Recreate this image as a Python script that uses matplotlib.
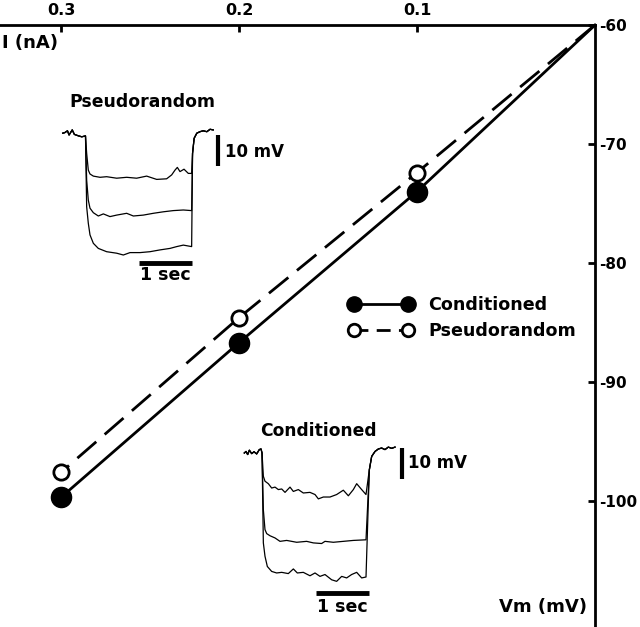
import matplotlib
matplotlib.use("Agg")
import matplotlib.pyplot as plt
from matplotlib.lines import Line2D

plt.rcParams['font.family'] = ['DejaVu Sans']
plt.rcParams['font.weight'] = 'bold'
plt.rcParams['axes.unicode_minus'] = False

# I-V data (current in nA, membrane potential in mV)
current = [0.3, 0.2, 0.1]
vm_conditioned = [-99.7, -86.7, -74.0]
vm_pseudorandom = [-97.6, -84.6, -72.4]
rest_current = 0.0
rest_vm = -60.0

x_ticks = [0.3, 0.2, 0.1]
y_ticks = [-60, -70, -80, -90, -100]

# --- inset traces: time (s) and voltage change (mV) ---
# pseudorandom
pr_pre_t = [0, 0.04, 0.09, 0.12, 0.18, 0.22, 0.30, 0.36, 0.43]
pr_pre_v = [0.6, 0.8, 1.4, 0, 1.7, 0.2, -0.3, -0.6, -0.3]
pr_post_t = [2.45, 2.48, 2.53, 2.59, 2.65, 2.72, 2.78, 2.84]
pr_post_v = [-6.1, -1.1, 0.6, 1.1, 1.4, 1.1, 1.9, 1.7]
pr1_t = [0.452, 0.483, 0.515, 0.578, 0.704, 0.829, 1.018, 1.207, 1.395, 1.584,
         1.773, 1.961, 2.056, 2.119, 2.163, 2.213, 2.289, 2.37, 2.433]
pr1_v = [-6.1, -11.7, -13.0, -13.7, -14.1, -13.9, -14.4, -14.1, -14.4, -13.7,
         -14.8, -14.6, -13.3, -11.7, -10.8, -12.2, -11.4, -12.8, -12.8]
pr2_t = [0.452, 0.483, 0.515, 0.578, 0.672, 0.767, 0.892, 1.018, 1.207, 1.333,
         1.521, 1.710, 1.899, 2.087, 2.276, 2.433]
pr2_v = [-15.0, -21.7, -24.4, -25.9, -27.0, -26.3, -27.2, -26.7, -26.1, -27.0,
         -26.7, -26.1, -25.6, -25.2, -25.0, -25.2]
pr3_t = [0.452, 0.483, 0.515, 0.578, 0.672, 0.829, 1.018, 1.144, 1.270, 1.459,
         1.647, 1.836, 2.025, 2.151, 2.276, 2.370, 2.433]
pr3_v = [-23.9, -29.4, -33.3, -36.1, -37.8, -38.9, -39.4, -40.0, -39.2, -39.2,
         -38.9, -38.3, -37.8, -37.2, -36.7, -37.0, -37.2]

# conditioned
co_pre_t = [0.006, 0.038, 0.069, 0.101, 0.145, 0.189, 0.239, 0.289, 0.321, 0.340]
co_pre_v = [0, 0.5, -0.5, 0.9, -0.2, 0.4, -0.3, 1.1, 1.3, 0]
co_post_t = [2.365, 2.409, 2.472, 2.535, 2.597, 2.66, 2.723, 2.786, 2.849]
co_post_v = [-5.4, -1.1, 0.5, 1.3, 1.6, 1.1, 1.9, 1.5, 1.9]
co1_t = [0.365, 0.396, 0.459, 0.522, 0.585, 0.648, 0.711, 0.774, 0.868, 0.931,
         1.025, 1.119, 1.245, 1.340, 1.403, 1.497, 1.623, 1.748, 1.874, 1.969,
         2.063, 2.126, 2.220, 2.302]
co1_v = [-7.5, -9.1, -9.9, -11.3, -11.0, -11.8, -11.6, -12.7, -11.0, -12.4,
         -11.8, -12.9, -12.7, -13.4, -14.8, -14.2, -14.2, -13.4, -12.0, -13.8,
         -11.8, -9.9, -11.8, -13.4]
co2_t = [0.365, 0.396, 0.428, 0.491, 0.585, 0.679, 0.805, 0.994, 1.182, 1.308,
         1.465, 1.528, 1.685, 1.874, 2.063, 2.302]
co2_v = [-18.3, -24.7, -26.0, -26.7, -27.4, -28.5, -28.2, -28.8, -28.5, -29.0,
         -29.2, -28.5, -28.8, -28.5, -28.2, -28.0]
co3_t = [0.365, 0.396, 0.440, 0.522, 0.616, 0.711, 0.836, 0.931, 1.006, 1.119,
         1.245, 1.340, 1.434, 1.528, 1.654, 1.748, 1.843, 1.937, 2.031, 2.126,
         2.220, 2.302]
co3_v = [-29.0, -33.3, -36.6, -38.2, -38.7, -38.5, -38.9, -37.4, -38.7, -38.5,
         -39.6, -38.7, -39.8, -39.2, -40.9, -41.4, -39.8, -40.3, -39.2, -38.5,
         -40.3, -40.0]

W, H = 640, 627
fig = plt.figure(figsize=(W / 100, H / 100), dpi=100)

# main axes: right spine at x=595 px, top spine at y=25 px
ax = fig.add_axes([0, 0, 595 / W, 1 - 25 / H])
ax.set_xlim(0.3343, 0.0)
ax.set_ylim(-110.6, -60)
for s in ['left', 'bottom']:
    ax.spines[s].set_visible(False)
for s in ['top', 'right']:
    ax.spines[s].set_linewidth(2)
ax.xaxis.tick_top()
ax.yaxis.tick_right()
ax.set_xticks(x_ticks)
ax.set_xticklabels([str(v) for v in x_ticks])
ax.set_yticks(y_ticks)
ax.tick_params(axis='x', direction='in', length=5, width=2, pad=5, labelsize=11.5)
ax.tick_params(axis='y', direction='in', length=5, width=2, pad=3, labelsize=11)
for lab in ax.get_xticklabels() + ax.get_yticklabels():
    lab.set_fontweight('bold')

ax.plot([rest_current] + current[::-1], [rest_vm] + vm_conditioned[::-1],
        color='black', lw=2, clip_on=False)
ax.plot([rest_current] + current[::-1], [rest_vm] + vm_pseudorandom[::-1],
        color='black', lw=2, dashes=(9, 4), clip_on=False)
ax.plot(current, vm_conditioned, 'o', color='black', ms=14.5, clip_on=False)
ax.plot(current, vm_pseudorandom, 'o', mfc='white', mec='black', mew=2,
        ms=11, clip_on=False)

h1 = Line2D([], [], color='black', lw=2, marker='o', ms=11, mfc='black', mec='black')
h2 = Line2D([], [], color='black', lw=2, dashes=(5, 3), marker='o', ms=9,
            mfc='white', mec='black', mew=2)
ax.legend([h1, h2], ['Conditioned', 'Pseudorandom'], numpoints=2, frameon=False,
          handlelength=3.7, handletextpad=0.84, labelspacing=0.43,
          borderpad=0, borderaxespad=0,
          prop={'size': 12.6, 'weight': 'bold'},
          loc='center left', bbox_to_anchor=(348.7 / 595, 1 - (318 - 25) / 602),
          bbox_transform=ax.transAxes)

fig.text(2 / W, 1 - 48 / H, 'I (nA)', fontsize=13, fontweight='bold',
         ha='left', va='baseline')
fig.text(587 / W, 1 - 612 / H, 'Vm (mV)', fontsize=13, fontweight='bold',
         ha='right', va='baseline')


def make_inset(left, top, width, height, x0, base_y, px_s, px_mv):
    a = fig.add_axes([left / W, 1 - (top + height) / H, width / W, height / H])
    t_left = (left - x0) / px_s
    v_top = (base_y - top) / px_mv
    a.set_xlim(t_left, t_left + width / px_s)
    a.set_ylim(v_top - height / px_mv, v_top)
    a.axis('off')
    a.patch.set_alpha(0)
    return a


# pseudorandom inset (pixel box, baseline 135 px, 53 px/s, 3 px/mV)
ia = make_inset(55, 115, 185, 175, 62.7, 135, 53, 3.0)
for tt, vv in [(pr1_t, pr1_v), (pr2_t, pr2_v), (pr3_t, pr3_v)]:
    ia.plot(pr_pre_t + tt + pr_post_t, pr_pre_v + vv + pr_post_v,
            color='black', lw=0.9)
ia.plot([2.93, 2.93], [0.0, -10.3], color='black', lw=3, solid_capstyle='butt')
ia.plot([1.44, 2.44], [-42.7, -42.7], color='black', lw=3.5, solid_capstyle='butt')
ia.text(3.06, -7.2, '10 mV', fontsize=12, fontweight='bold', ha='left', va='baseline')
ia.text(1.93, -48.3, '1 sec', fontsize=12.5, fontweight='bold', ha='center', va='baseline')
ia.text(1.50, 9.3, 'Pseudorandom', fontsize=12.4, fontweight='bold',
        ha='center', va='baseline', clip_on=False)

# conditioned inset (pixel box, baseline 453 px, 53 px/s, 3.1 px/mV)
ib = make_inset(236, 440, 185, 185, 244, 453, 53, 3.1)
for tt, vv in [(co1_t, co1_v), (co2_t, co2_v), (co3_t, co3_v)]:
    ib.plot(co_pre_t + tt + co_post_t, co_pre_v + vv + co_post_v,
            color='black', lw=0.9)
ib.plot([2.99, 2.99], [1.6, -8.4], color='black', lw=3, solid_capstyle='butt')
ib.plot([1.36, 2.36], [-45.1, -45.1], color='black', lw=3.5, solid_capstyle='butt')
ib.text(3.09, -4.8, '10 mV', fontsize=12, fontweight='bold', ha='left', va='baseline')
ib.text(1.85, -51.3, '1 sec', fontsize=12.5, fontweight='bold', ha='center', va='baseline')
ib.text(1.40, 5.5, 'Conditioned', fontsize=12.3, fontweight='bold',
        ha='center', va='baseline', clip_on=False)

fig.savefig('out.png', dpi=100)
